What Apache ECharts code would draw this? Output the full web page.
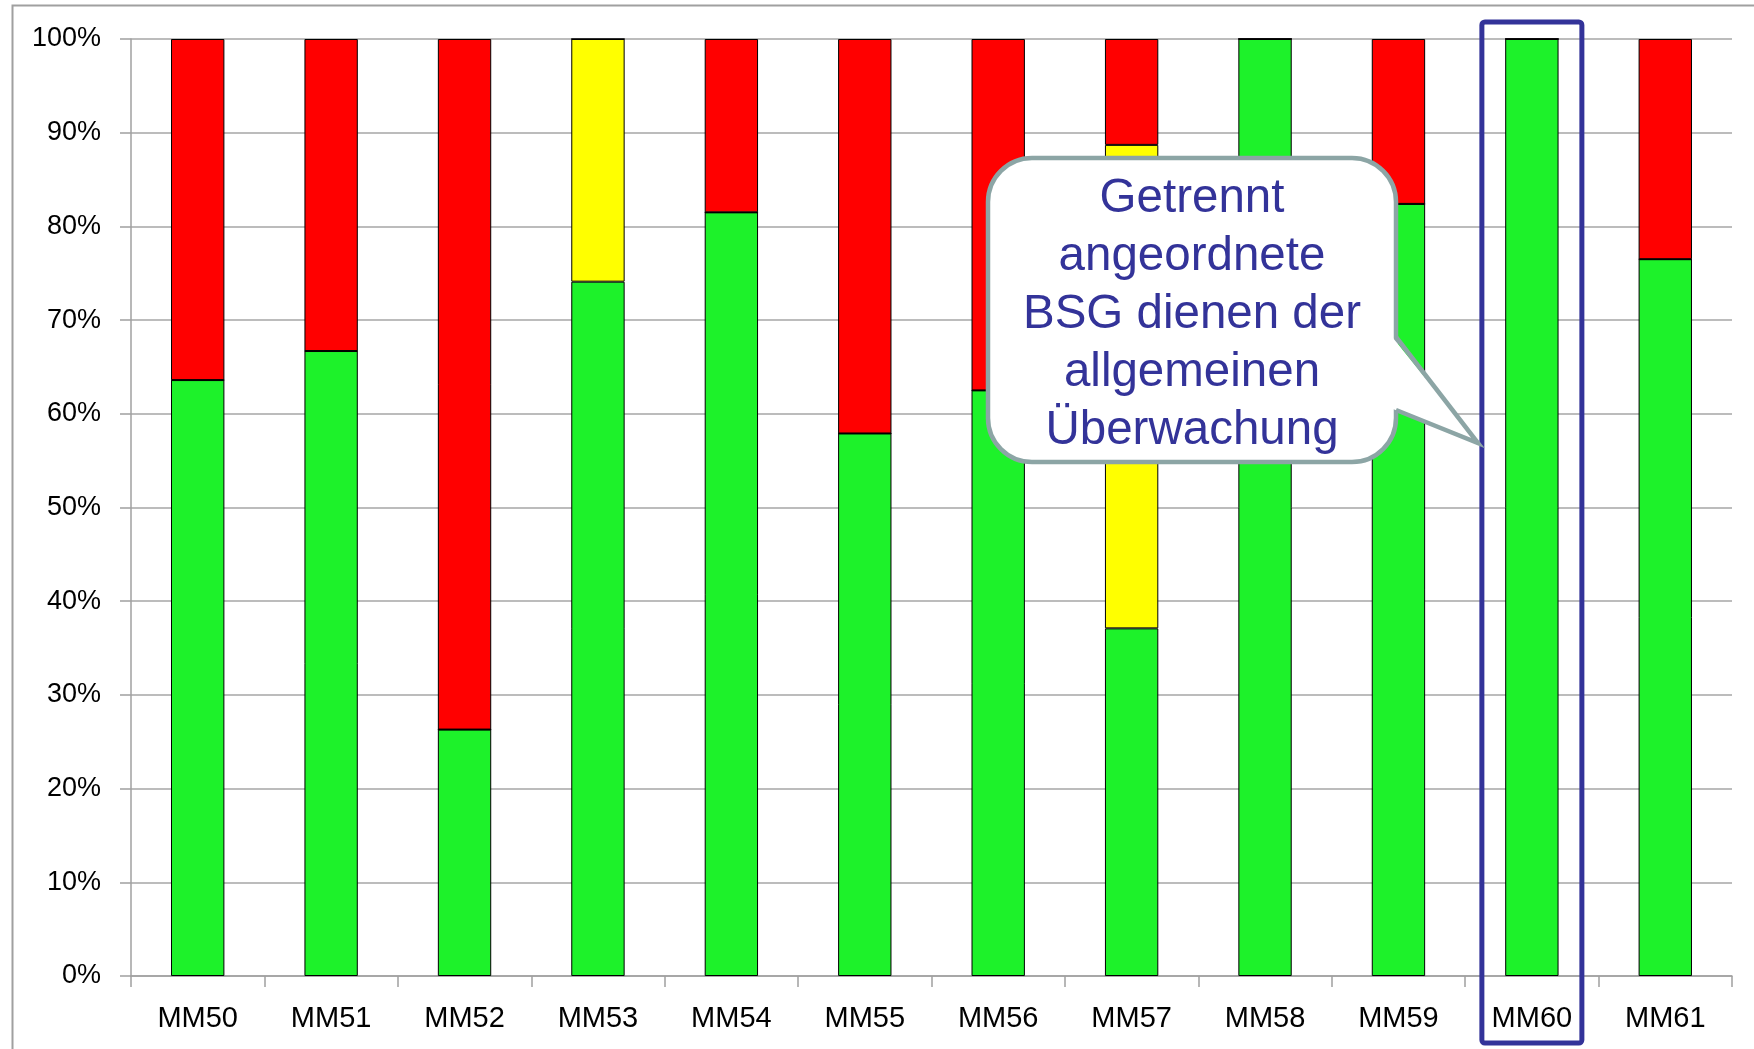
<!DOCTYPE html>
<html>
<head>
<meta charset="utf-8">
<script src="https://cdn.jsdelivr.net/npm/echarts@6/dist/echarts.min.js"></script>
<style>
html,body{margin:0;padding:0;background:#fff;}
#chart{width:1754px;height:1049px;}
</style>
</head>
<body>
<div id="chart"></div>
<script>
const categories = ['MM50','MM51','MM52','MM53','MM54','MM55','MM56','MM57','MM58','MM59','MM60','MM61'];
const greenValues  = [63.6, 66.7, 26.3, 74.1, 81.5, 57.9, 62.5, 37.1, 100, 82.4, 100, 76.5];
const yellowValues = [0, 0, 0, 25.9, 0, 0, 0, 51.6, 0, 0, 0, 0];
const redValues    = [36.4, 33.3, 73.7, 0, 18.5, 42.1, 37.5, 11.3, 0, 17.6, 0, 23.5];
const yTicks = [0,10,20,30,40,50,60,70,80,90,100];
const calloutLines = ['Getrennt','angeordnete','BSG dienen der','allgemeinen','Überwachung'];
const highlightCategory = 'MM60';

const chart = echarts.init(document.getElementById('chart'));
const barBorder = {borderColor:'#000', borderWidth:1};
const option = {
  animation:false,
  backgroundColor:'#fff',
  grid:{left:131, right:22, top:39, bottom:73, containLabel:false},
  xAxis:{
    type:'category', data:categories,
    axisLine:{show:true, lineStyle:{color:'#a0a0a0', width:1.5}},
    axisTick:{show:true, length:11, lineStyle:{color:'#a0a0a0', width:1.5}},
    axisLabel:{color:'#000', fontFamily:'Liberation Sans', fontSize:29, margin:28}
  },
  yAxis:{
    type:'value', min:0, max:100, interval:10,
    axisLine:{show:true, lineStyle:{color:'#a0a0a0', width:1.5}},
    axisTick:{show:true, length:11, lineStyle:{color:'#a0a0a0', width:1.5}},
    splitLine:{show:true, lineStyle:{color:'#a6a6a6', width:1.5}},
    axisLabel:{color:'#000', fontFamily:'Liberation Sans', fontSize:27, margin:30,
      formatter:function(v){ return yTicks.indexOf(v)>=0 ? v+'%' : ''; }}
  },
  series:[
    {name:'green', type:'bar', stack:'s', data:greenValues, barWidth:'40%',
      itemStyle:Object.assign({color:'#1DF22A'}, barBorder)},
    {name:'yellow', type:'bar', stack:'s', data:yellowValues, barWidth:'40%',
      itemStyle:Object.assign({color:'#FFFF00'}, barBorder)},
    {name:'red', type:'bar', stack:'s', data:redValues, barWidth:'40%',
      itemStyle:Object.assign({color:'#FF0000'}, barBorder)}
  ]
};
chart.setOption(option);

const cx = chart.convertToPixel({xAxisIndex:0}, highlightCategory);
const yTop = chart.convertToPixel({yAxisIndex:0}, 100);
const yBot = chart.convertToPixel({yAxisIndex:0}, 0);

chart.setOption({
  graphic:[
    {type:'rect', z:1, silent:true,
      shape:{x:12.5, y:5.5, width:1800, height:1100},
      style:{fill:null, stroke:'#a0a0a0', lineWidth:2}},
    {type:'rect', z:100, silent:true,
      shape:{x:cx-50, y:yTop-17, width:100, height:(yBot+67)-(yTop-17), r:3},
      style:{fill:null, stroke:'#333399', lineWidth:5}},
    {type:'rect', z:100, silent:true,
      shape:{x:988, y:158, width:408, height:304, r:44},
      style:{fill:'#fff', stroke:'#8CA5A5', lineWidth:4.5}},
    {type:'polygon', z:101, silent:true,
      shape:{points:[[1393,338],[1478,443],[1393,409]]},
      style:{fill:'#fff', stroke:null}},
    {type:'polyline', z:102, silent:true,
      shape:{points:[[1396,337],[1478,443],[1396,410]]},
      style:{fill:null, stroke:'#8CA5A5', lineWidth:4.5, lineJoin:'miter'}},
    {type:'text', z:103, silent:true, x:1192, y:315,
      style:{text:calloutLines.join('\n'), fill:'#333399', font:'47.5px "Liberation Sans"',
        align:'center', verticalAlign:'middle', lineHeight:58}}
  ]
});
</script>
</body>
</html>
